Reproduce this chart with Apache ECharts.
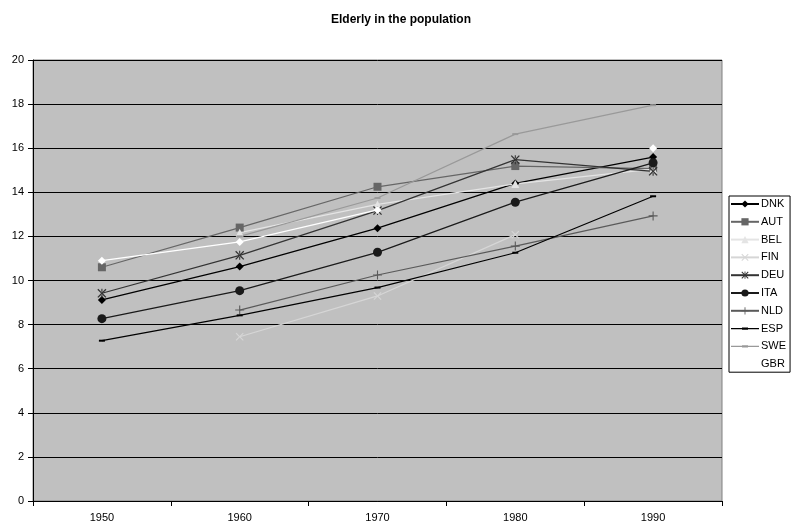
<!DOCTYPE html>
<html>
<head>
<meta charset="utf-8">
<script src="https://cdn.jsdelivr.net/npm/echarts@6/dist/echarts.min.js"></script>
<style>
html,body{margin:0;padding:0;background:#fff;}
#chart{width:791px;height:523px;}
</style>
</head>
<body>
<div id="chart"></div>
<script>
var years = ['1950', '1960', '1970', '1980', '1990'];
var countries = ['DNK', 'AUT', 'BEL', 'FIN', 'DEU', 'ITA', 'NLD', 'ESP', 'SWE', 'GBR'];
var DNK = [9.12, 10.63, 12.37, 14.4, 15.6];
var AUT = [10.6, 12.4, 14.25, 15.19, 15.07];
var BEL = [null, 12.17, 13.45, 14.38, 15.05];
var FIN = [null, 7.45, 9.3, 12.08, null];
var DEU = [9.42, 11.14, 13.17, 15.48, 14.95];
var ITA = [8.27, 9.54, 11.28, 13.55, 15.34];
var NLD = [null, 8.66, 10.25, 11.56, 12.93];
var ESP = [7.27, 8.42, 9.68, 11.26, 13.82];
var SWE = [null, 12.0, 13.74, 16.64, 17.95];
var GBR = [10.9, 11.75, 13.2, null, 16.0];

var X_PATH = 'path://M0,1 L1,0 L5,4 L9,0 L10,1 L6,5 L10,9 L9,10 L5,6 L1,10 L0,9 L4,5 Z';
var PLUS_PATH = 'path://M4.4,0 H5.6 V4.4 H10 V5.6 H5.6 V10 H4.4 V5.6 H0 V4.4 H4.4 Z';
var AST_PATH = 'path://M0,1 L1,0 L5,4 L9,0 L10,1 L6,5 L10,9 L9,10 L5,6 L1,10 L0,9 L4,5 Z M4.4,0 H5.6 V3.2 H4.4 Z M4.4,6.8 H5.6 V10 H4.4 Z';
var DASH_PATH = 'path://M0,0 H10 V3 H0 Z';
// legend icon: thin line across + small dash in the middle (28x9 box)
var DASH_LEGEND = 'path://M0,0 L0.01,0 L0,0.01 Z M28,9 L27.99,9 L28,8.99 Z M0,3.9 H28 V5.1 H0 Z M11,3.3 H17 V5.7 H11 Z';

function mk(name, data, color, symbol, size, width) {
  return {
    name: name, type: 'line', data: data,
    symbol: symbol, symbolSize: size,
    showSymbol: true, connectNulls: false,
    lineStyle: { color: color, width: width },
    itemStyle: { color: color },
    emphasis: { disabled: true }
  };
}

var legendData = countries.map(function (c) {
  if (c === 'ESP' || c === 'SWE') return { name: c, icon: DASH_LEGEND };
  return { name: c };
});

var chart = echarts.init(document.getElementById('chart'), null, { renderer: 'canvas' });
chart.setOption({
  animation: false,
  backgroundColor: '#ffffff',
  title: {
    text: 'Elderly in the population',
    left: 396, top: 9, textAlign: 'center',
    textStyle: { fontFamily: 'Liberation Sans', fontSize: 12, fontWeight: 'bold', color: '#000' }
  },
  grid: {
    left: 33, right: 69, top: 60, bottom: 22,
    show: true, backgroundColor: '#c0c0c0', borderColor: '#808080', borderWidth: 1
  },
  legend: {
    orient: 'vertical', left: 729, top: 196,
    backgroundColor: '#ffffff', borderColor: '#000', borderWidth: 1,
    padding: [2, 4, 2, 1],
    itemWidth: 28, itemHeight: 9, itemGap: 5.8,
    textStyle: { fontFamily: 'Liberation Sans', fontSize: 11, lineHeight: 12, color: '#000', padding: [0, 0, 0, -3] },
    data: legendData
  },
  xAxis: {
    type: 'category', data: years, boundaryGap: true,
    axisLine: { lineStyle: { color: '#000', width: 1 } },
    axisTick: { show: true, length: 5, lineStyle: { color: '#000' } },
    axisLabel: { margin: 11, fontFamily: 'Liberation Sans', fontSize: 11, color: '#000' },
    splitLine: { show: false }
  },
  yAxis: {
    type: 'value', min: 0, max: 20, interval: 2,
    axisLine: { show: true, lineStyle: { color: '#000', width: 1 } },
    axisTick: { show: true, length: 5, lineStyle: { color: '#000' } },
    axisLabel: { margin: 9, fontFamily: 'Liberation Sans', fontSize: 11, color: '#000' },
    splitLine: { show: true, lineStyle: { color: '#000', width: 1 } }
  },
  series: [
    mk('DNK', DNK, '#000000', 'diamond', 8, 1.3),
    mk('AUT', AUT, '#666666', 'rect', 8, 1.2),
    mk('BEL', BEL, '#e4e4e4', 'triangle', 8, 1.2),
    mk('FIN', FIN, '#d6d6d6', X_PATH, 8, 1.2),
    mk('DEU', DEU, '#333333', AST_PATH, 9, 1.2),
    mk('ITA', ITA, '#1a1a1a', 'circle', 9, 1.3),
    mk('NLD', NLD, '#5a5a5a', PLUS_PATH, 9, 1.2),
    mk('ESP', ESP, '#000000', DASH_PATH, [6, 2], 1.2),
    mk('SWE', SWE, '#999999', DASH_PATH, [6, 2], 1.2),
    mk('GBR', GBR, '#ffffff', 'diamond', 8, 1.3)
  ]
});
</script>
</body>
</html>
